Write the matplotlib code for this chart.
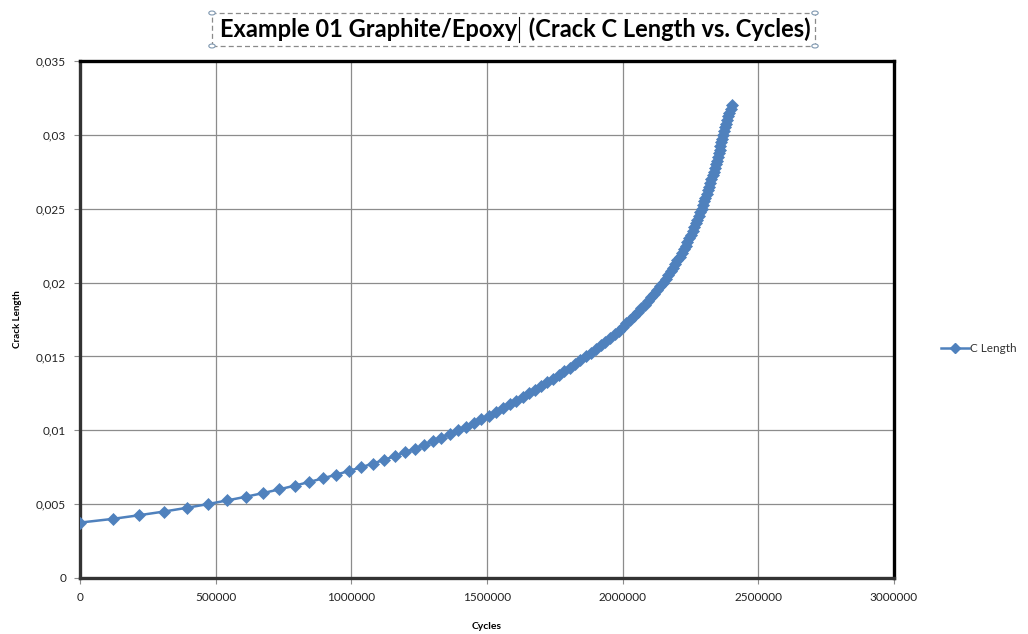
import matplotlib
matplotlib.use("Agg")
import matplotlib.pyplot as plt
from matplotlib.patches import Rectangle, Circle
from matplotlib.lines import Line2D
from matplotlib.ticker import FuncFormatter, MultipleLocator

# crack length (m), one value per growth step
crack_length = [
    0.00375, 0.00400, 0.00425, 0.00450, 0.00475, 0.00500, 0.00525, 0.00550,
    0.00575, 0.00600, 0.00625, 0.00650, 0.00675, 0.00700, 0.00725, 0.00750,
    0.00775, 0.00800, 0.00825, 0.00850, 0.00875, 0.00900, 0.00925, 0.00950,
    0.00975, 0.01000, 0.01025, 0.01050, 0.01075, 0.01100, 0.01125, 0.01150,
    0.01175, 0.01200, 0.01225, 0.01250, 0.01275, 0.01300, 0.01325, 0.01350,
    0.01375, 0.01400, 0.01425, 0.01450, 0.01475, 0.01500, 0.01525, 0.01550,
    0.01575, 0.01600, 0.01625, 0.01650, 0.01675, 0.01700, 0.01725, 0.01750,
    0.01775, 0.01800, 0.01825, 0.01850, 0.01875, 0.01900, 0.01925, 0.01950,
    0.01975, 0.02000, 0.02025, 0.02050, 0.02075, 0.02100, 0.02125, 0.02150,
    0.02175, 0.02200, 0.02225, 0.02250, 0.02275, 0.02300, 0.02325, 0.02350,
    0.02375, 0.02400, 0.02425, 0.02450, 0.02475, 0.02500, 0.02525, 0.02550,
    0.02575, 0.02600, 0.02625, 0.02650, 0.02675, 0.02700, 0.02725, 0.02750,
    0.02775, 0.02800, 0.02825, 0.02850, 0.02875, 0.02900, 0.02925, 0.02950,
    0.02975, 0.03000, 0.03025, 0.03050, 0.03075, 0.03100, 0.03125, 0.03150,
    0.03175, 0.03200,
]

# load cycles reached at each crack length
cycles = [
    0, 120000, 218000, 310000, 393000, 470000, 542000, 611000,
    675000, 734000, 791000, 845000, 896000, 945000, 992000, 1037000,
    1080000, 1121000, 1160000, 1197000, 1233000, 1267000, 1300000, 1332000,
    1363000, 1393000, 1422200, 1450700, 1478500, 1505600, 1532000, 1557800,
    1583000, 1607600, 1631600, 1655100, 1678100, 1700500, 1722400, 1743800,
    1764700, 1785100, 1805000, 1824400, 1843400, 1865000, 1883500, 1901600,
    1919300, 1936600, 1953500, 1970000, 1985100, 1999800, 2014100, 2028100,
    2041800, 2055200, 2068200, 2080800, 2093000, 2104800, 2116200, 2127200,
    2137800, 2148000, 2157900, 2167400, 2176500, 2185300, 2193800, 2202000,
    2209900, 2217500, 2224800, 2231800, 2238600, 2245200, 2251600, 2257800,
    2263800, 2269600, 2275200, 2280600, 2285800, 2290800, 2295700, 2300500,
    2305200, 2309800, 2314300, 2318700, 2323000, 2327200, 2331300, 2335300,
    2339200, 2343000, 2346700, 2350300, 2353800, 2357200, 2360500, 2363800,
    2367100, 2370400, 2374200, 2378000, 2381800, 2385700, 2389600, 2393600,
    2397700, 2401900,
]

x_ticks = [0, 500000, 1000000, 1500000, 2000000, 2500000, 3000000]

title_text = "Example 01 Graphite/Epoxy  (Crack C Length vs. Cycles)"
cursor_after = "Example 01 Graphite/Epoxy"

blue = "#4F81BD"
grid_grey = "#8C8C8C"

plt.rcParams["font.family"] = ["Lato", "DejaVu Sans"]

W, H = 1028, 634
fig = plt.figure(figsize=(W / 100, H / 100), dpi=100)
ax = fig.add_axes([80 / W, 1 - 578 / H, (894 - 80) / W, (578 - 61) / H])

ax.plot(cycles, crack_length, color=blue, linewidth=1.8, marker="D",
        markersize=6.6, markeredgewidth=0.5, markeredgecolor=blue, zorder=3)

ax.set_xlim(0, 3000000)
ax.set_ylim(0, 0.035)
ax.set_xticks(x_ticks)
ax.xaxis.set_major_formatter(FuncFormatter(lambda v, p: f"{int(v)}"))
ax.yaxis.set_major_locator(MultipleLocator(0.005))
ax.yaxis.set_major_formatter(
    FuncFormatter(lambda v, p: "0" if abs(v) < 1e-12 else f"{v:g}".replace(".", ",")))

ax.grid(True, color=grid_grey, linewidth=0.9)
ax.set_axisbelow(True)
ax.tick_params(axis="both", direction="out", length=4, width=0.8, color=grid_grey,
               labelsize=8.5, labelcolor="#222222", pad=6)

for side in ["top", "right", "left", "bottom"]:
    ax.spines[side].set_linewidth(2.4)
    ax.spines[side].set_color("black")
ax.spines["left"].set_color("#333333")
ax.spines["bottom"].set_color("#333333")

ax.set_xlabel("Cycles", fontsize=7.5, fontweight="bold", labelpad=14)
ax.set_ylabel("Crack Length", fontsize=7, fontweight="bold", labelpad=10)

# legend at the right of the plot area
leg_handle = Line2D([], [], color=blue, linewidth=1.8, marker="D", markersize=5.5)
fig.legend([leg_handle], ["C Length"], loc="center left",
           bbox_to_anchor=(930 / W, 1 - 349 / H), frameon=False,
           fontsize=8.5, handlelength=2.4, handletextpad=0.1,
           labelcolor="#333333")

# title inside a selected text box
title = fig.text(515 / W, 1 - 29 / H, title_text, ha="center", va="center",
                 fontsize=17, fontweight="bold")
box = Rectangle((212 / W, 1 - 46 / H), (815 - 212) / W, 33 / H,
                transform=fig.transFigure, fill=False, edgecolor="#8A8A8A",
                linewidth=0.9, linestyle=(0, (4, 2.5)))
fig.add_artist(box)
for hx, hy in [(212, 13), (815, 13), (212, 46), (815, 46)]:
    fig.add_artist(Circle((hx / W, 1 - hy / H), 3.2 / W,
                          transform=fig.transFigure, facecolor="white",
                          edgecolor="#7F98B0", linewidth=0.8))

# text cursor right after "Epoxy"
renderer = fig.canvas.get_renderer()
tx0 = title.get_window_extent(renderer).x0
probe = fig.text(tx0 / W, 0.5, cursor_after, ha="left", va="center",
                 fontsize=17, fontweight="bold")
cx = probe.get_window_extent(renderer).x1 + 2
probe.remove()
fig.add_artist(Line2D([cx / W, cx / W], [1 - 42 / H, 1 - 17 / H],
                      transform=fig.transFigure, color="black", linewidth=0.8))

fig.savefig("out.png", dpi=100)
